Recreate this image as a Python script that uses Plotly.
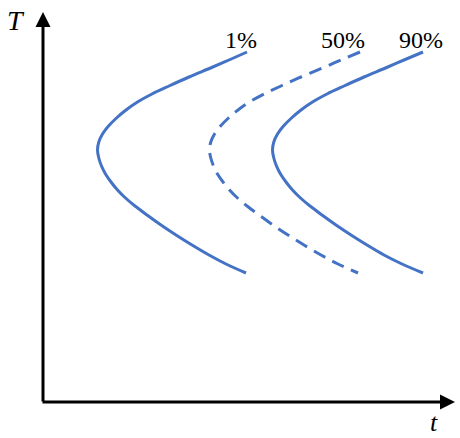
import plotly.graph_objects as go

# C-curves (time, temperature)
T_curve = [386, 378, 370, 361, 352, 344, 336, 328, 320, 312, 304, 296, 288,
           280, 272, 264, 256, 248, 240, 232, 223, 213, 203, 193, 183, 174, 165]
t_1 = [247, 229, 210.5, 189, 169, 152, 137.5, 126, 116.5, 108.5, 102.5, 98.8, 97.5,
       98.8, 101.5, 105.5, 111, 117.5, 125.5, 135, 147, 161, 176, 192, 209, 226, 246]
t_50 = [360, 341, 322.5, 301, 281, 264, 249.5, 238, 228.5, 220.5, 214.5, 210.8, 209.5,
        210.8, 213.5, 217.5, 223, 229.5, 237.5, 247, 259, 273, 288, 304, 321, 338, 358]
t_90 = [423, 404, 385.5, 364, 344, 327, 312.5, 301, 291.5, 283.5, 277.5, 273.8, 272.5,
        273.8, 276.5, 280.5, 286, 292.5, 300.5, 310, 322, 336, 351, 367, 384, 402, 423]
labels = ["1%", "50%", "90%"]

blue = "#4472C4"
fig = go.Figure()
fig.add_trace(go.Scatter(x=t_1, y=T_curve, mode="lines", line=dict(color=blue, width=3, shape="spline")))
fig.add_trace(go.Scatter(x=t_50, y=T_curve, mode="lines", line=dict(color=blue, width=3, shape="spline", dash="13px,8px")))
fig.add_trace(go.Scatter(x=t_90, y=T_curve, mode="lines", line=dict(color=blue, width=3, shape="spline")))

serif = "Liberation Serif"
for lab, xx in zip(labels, [241, 343, 421]):
    fig.add_annotation(x=xx, y=398, text=lab, showarrow=False, font=dict(family=serif, size=24, color="black"))

# axes with arrows
fig.add_annotation(x=43, y=426, ax=43, ay=35, xref="x", yref="y", axref="x", ayref="y",
                   text="", showarrow=True, arrowhead=2, arrowsize=1, arrowwidth=3, arrowcolor="black")
fig.add_annotation(x=455, y=36, ax=41, ay=36, xref="x", yref="y", axref="x", ayref="y",
                   text="", showarrow=True, arrowhead=2, arrowsize=1, arrowwidth=3, arrowcolor="black")
fig.add_annotation(x=16, y=418, text="<i>T</i>", showarrow=False, font=dict(family=serif, size=28, color="black"))
fig.add_annotation(x=434, y=16, text="<i>t</i>", showarrow=False, font=dict(family=serif, size=26, color="black"))

fig.update_layout(width=460, height=438, margin=dict(l=0, r=0, t=0, b=0),
                  plot_bgcolor="white", paper_bgcolor="white", showlegend=False)
fig.update_xaxes(range=[0, 460], visible=False)
fig.update_yaxes(range=[0, 438], visible=False)
fig.write_html("out.html", config={"displayModeBar": False},
               post_script="document.body.style.margin='0';")
